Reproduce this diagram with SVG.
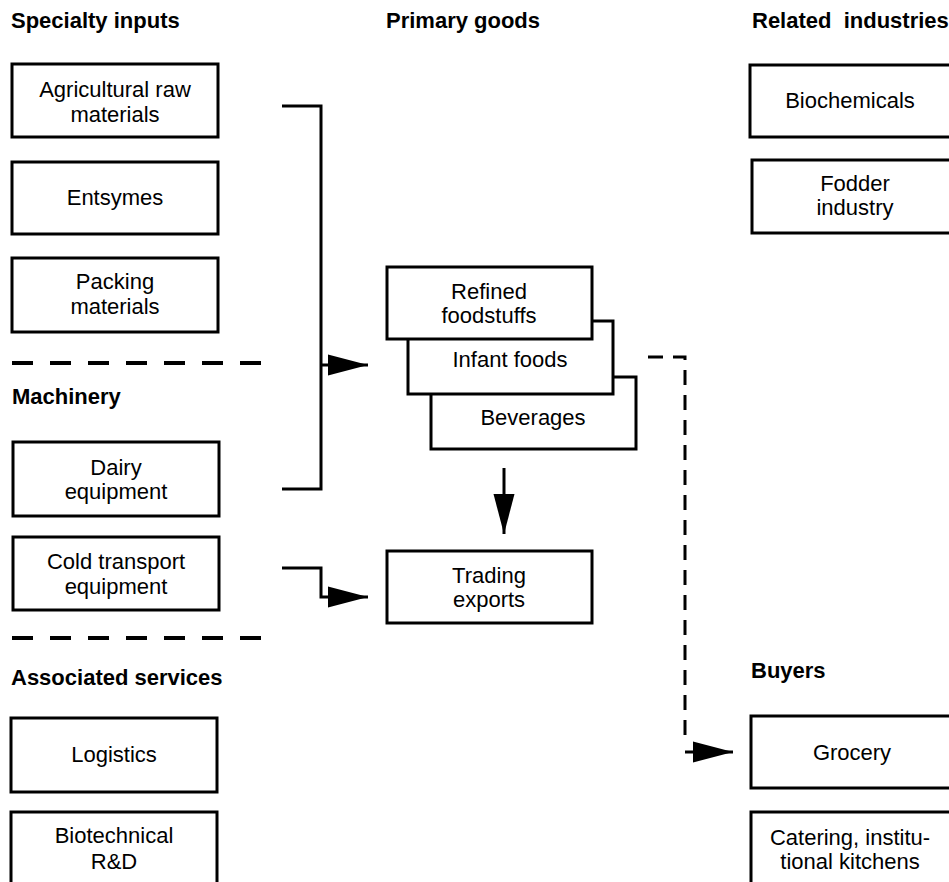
<svg xmlns="http://www.w3.org/2000/svg" width="949" height="882" viewBox="0 0 949 882">
  <style>
    .box { fill: #fff; stroke: #000; stroke-width: 3; }
    .t { font-family: "Liberation Sans", Arial, sans-serif; font-size: 22px; fill: #000; text-anchor: middle; }
    .h { font-family: "Liberation Sans", Arial, sans-serif; font-size: 22px; font-weight: bold; fill: #000; }
    .con { fill: none; stroke: #000; stroke-width: 3; }
    .sep { fill: none; stroke: #000; stroke-width: 4; stroke-dasharray: 21 17; }
    .dash { fill: none; stroke: #000; stroke-width: 3; stroke-dasharray: 15 10; }
  </style>
  <defs>
    <marker id="arrow" markerUnits="userSpaceOnUse" markerWidth="40" markerHeight="22" refX="40" refY="11" orient="auto" overflow="visible">
      <path d="M0,0.5 L40,11 L0,21.5 Z" fill="#000"/>
    </marker>
  </defs>

  <rect width="949" height="882" fill="#fff"/>

  <!-- Section headings -->
  <g id="headings">
    <text class="h" x="11" y="28">Specialty inputs</text>
    <text class="h" x="386" y="28">Primary goods</text>
    <text class="h" x="752" y="28" xml:space="preserve">Related  industries</text>
    <text class="h" x="12" y="404">Machinery</text>
    <text class="h" x="11" y="685">Associated services</text>
    <text class="h" x="751" y="678">Buyers</text>
  </g>

  <!-- Separators between input groups -->
  <g id="separators">
    <line class="sep" x1="12" y1="363" x2="262" y2="363"/>
    <line class="sep" x1="12" y1="638" x2="262" y2="638"/>
  </g>

  <!-- Specialty inputs -->
  <g id="agri">
    <rect class="box" x="12" y="64" width="206" height="73"/>
    <text class="t" x="115" y="97">Agricultural raw</text>
    <text class="t" x="115" y="122">materials</text>
  </g>
  <g id="entsymes">
    <rect class="box" x="12" y="162" width="206" height="72"/>
    <text class="t" x="115" y="205">Entsymes</text>
  </g>
  <g id="packing">
    <rect class="box" x="12" y="258" width="206" height="74"/>
    <text class="t" x="115" y="289">Packing</text>
    <text class="t" x="115" y="314">materials</text>
  </g>

  <!-- Machinery -->
  <g id="dairy">
    <rect class="box" x="13" y="442" width="206" height="74"/>
    <text class="t" x="116" y="475">Dairy</text>
    <text class="t" x="116" y="499">equipment</text>
  </g>
  <g id="cold">
    <rect class="box" x="13" y="537" width="206" height="73"/>
    <text class="t" x="116" y="569">Cold transport</text>
    <text class="t" x="116" y="594">equipment</text>
  </g>

  <!-- Associated services -->
  <g id="logistics">
    <rect class="box" x="11" y="718" width="206" height="74"/>
    <text class="t" x="114" y="762">Logistics</text>
  </g>
  <g id="biotech">
    <rect class="box" x="11" y="812" width="206" height="80"/>
    <text class="t" x="114" y="843">Biotechnical</text>
    <text class="t" x="114" y="869">R&amp;D</text>
  </g>

  <!-- Primary goods (stacked) -->
  <g id="beverages">
    <rect class="box" x="431" y="377" width="205" height="72"/>
    <text class="t" x="533" y="425">Beverages</text>
  </g>
  <g id="infant">
    <rect class="box" x="408" y="321" width="205" height="73"/>
    <text class="t" x="510" y="367">Infant foods</text>
  </g>
  <g id="refined">
    <rect class="box" x="387" y="267" width="205" height="72"/>
    <text class="t" x="489" y="299">Refined</text>
    <text class="t" x="489" y="323">foodstuffs</text>
  </g>
  <g id="trading">
    <rect class="box" x="387" y="551" width="205" height="72"/>
    <text class="t" x="489" y="583">Trading</text>
    <text class="t" x="489" y="607">exports</text>
  </g>

  <!-- Related industries -->
  <g id="biochem">
    <rect class="box" x="750" y="65" width="205" height="72"/>
    <text class="t" x="850" y="108">Biochemicals</text>
  </g>
  <g id="fodder">
    <rect class="box" x="752" y="160" width="205" height="73"/>
    <text class="t" x="855" y="191">Fodder</text>
    <text class="t" x="855" y="215">industry</text>
  </g>

  <!-- Buyers -->
  <g id="grocery">
    <rect class="box" x="751" y="716" width="205" height="72"/>
    <text class="t" x="852" y="760">Grocery</text>
  </g>
  <g id="catering">
    <rect class="box" x="751" y="812" width="205" height="80"/>
    <text class="t" x="850" y="845">Catering, institu-</text>
    <text class="t" x="850" y="869">tional kitchens</text>
  </g>

  <!-- Connectors -->
  <g id="connectors">
    <polyline class="con" points="282,106 321,106 321,489 282,489"/>
    <line class="con" x1="321" y1="365" x2="368" y2="365" marker-end="url(#arrow)"/>
    <polyline class="con" points="282,568 321,568 321,597 368,597" marker-end="url(#arrow)"/>
    <line class="con" x1="504" y1="468" x2="504" y2="534" marker-end="url(#arrow)"/>
    <polyline class="dash" points="648,357 685,357 685,744"/>
    <line class="con" x1="685" y1="752" x2="733" y2="752" marker-end="url(#arrow)"/>
  </g>
</svg>
